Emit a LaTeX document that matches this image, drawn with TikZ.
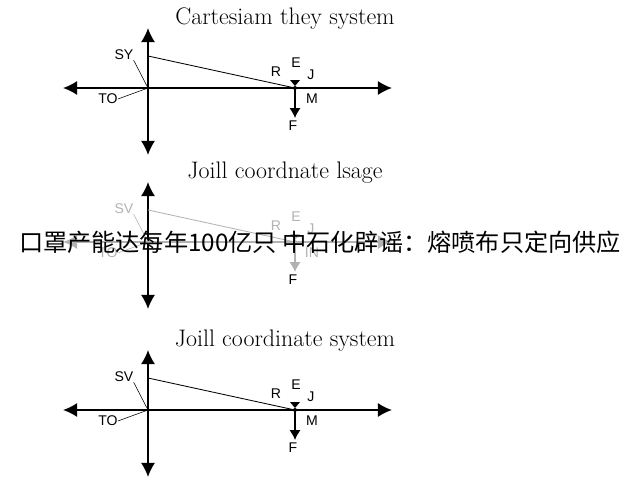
\documentclass[tikz,border=0pt]{standalone}
\usepackage{fontspec}
\newfontfamily\cjk{Noto Sans CJK SC}
\newfontfamily\lbl{Liberation Sans}
\usetikzlibrary{positioning,calc,arrows.meta}

\newcommand{\drawpanel}[7]{% prefix, y shift, title, colour, upper label, lower label, right label
\begin{scope}[yshift=#2, name prefix=#1-, draw=#4]
			\node[ttl] (title) at (285,19) {#3};
			\coordinate (o) at (148,88);
			\coordinate (top) at (148,28);
			\coordinate (bot) at (148,155);
			\coordinate (left) at (63,88);
			\coordinate (right) at (392,88);
			\coordinate (s) at (148,56);
			\coordinate (p) at (295,88);
			\coordinate (f) at (295,118);
			\node[lab, text=#4] (sy) at (124,55) {#5};
			\node[lab, text=#4] (to) at (108,99) {#6};
			\node[lab, text=#4] (e) at (296,63) {E};
			\node[lab, text=#4] (r) at (276,72) {R};
			\node[lab, text=#4] (j) at (311,75) {J};
			\node[lab, text=#4] (m) at (312,99) {#7};
			\node[lab] (fl) at (293,126) {F};
			\draw[axis, draw=black] (o) -- (top);
			\draw[axis, draw=black] (o) -- (bot);
			\draw[axis] (o) -- (left);
			\draw[axis] (o) -- (right);
			\draw[semithick] (s) -- (p);
			\draw[thin] (sy.south east) -- (o);
			\draw[thin] (to.east) -- (o);
			\draw[axis, -{Latex[length=7pt,width=8pt]}] (p) -- (f);
			\fill[#4] (290,80) -- (300,80) -- (295,86) -- cycle;
			\fill[#4] (p) circle (2);
\end{scope}}

\begin{document}
\begin{tikzpicture}[x=0.025cm, y=-0.025cm,
				ttl/.style={font=\fontsize{17}{19}\selectfont},
				lab/.style={font=\lbl\fontsize{10}{11}\selectfont, inner sep=0pt},
				axis/.style={very thick, -{Latex[length=10pt,width=10pt]}},
				overlay text/.style={font=\cjk\fontsize{17.2}{19}\selectfont, inner sep=0pt}
			]
			\useasboundingbox (0,0) rectangle (640,480);
			\drawpanel{a}{0}{Cartesiam they system}{black}{SY}{TO}{M}
			\drawpanel{b}{-154*0.025cm}{Joill coordnate lsage}{black!30}{SV}{TO}{IN}
			\drawpanel{c}{-322*0.025cm}{Joill coordinate system}{black}{SV}{TO}{M}
			\node[overlay text] (banner) at (320,242) {口罩产能达每年100亿只 中石化辟谣：熔喷布只定向供应};
\end{tikzpicture}
\end{document}
